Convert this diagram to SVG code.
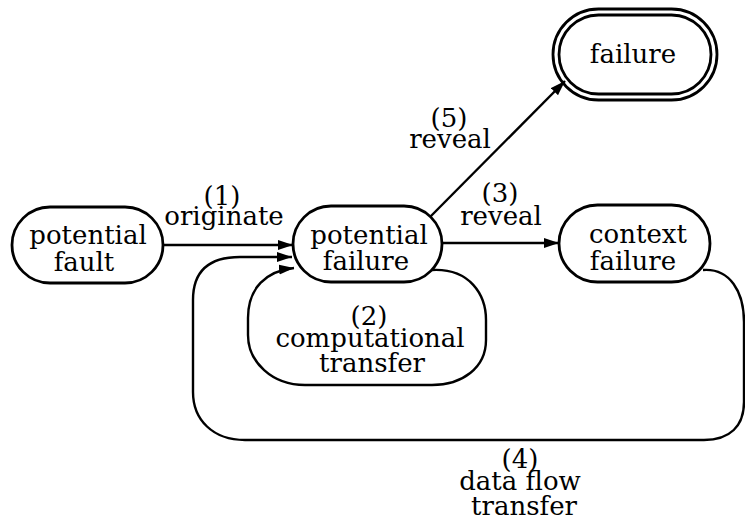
<svg xmlns="http://www.w3.org/2000/svg" width="745" height="521" viewBox="0 0 745 521">
<style>
  .node { fill: none; stroke: #000; stroke-width: 2.8; }
  .edge { fill: none; stroke: #000; stroke-width: 2.4; }
  text { font-family: "DejaVu Serif", "Liberation Serif", serif; font-size: 26px; fill: #000; text-anchor: middle; }
</style>
<defs>
  <marker id="arr" markerUnits="userSpaceOnUse" markerWidth="16" markerHeight="12" refX="15" refY="5.5" orient="auto">
    <path d="M0,0.5 L15,5.5 L0,10.5 Z" fill="#000"/>
  </marker>
</defs>
<rect width="745" height="521" fill="#fff"/>
<g id="connectors">
  <path id="e1" class="edge" d="M163,245 L293,245" marker-end="url(#arr)"/>
  <path id="e2" class="edge" d="M432,270 C470,268 486,295 486,320 L486,340 C486,368 462,385 432,385 L305,385 C272,385 248,362 248,335 L248,318 C248,288 266,271 294,268" marker-end="url(#arr)"/>
  <path id="e3" class="edge" d="M442,243 L559,243" marker-end="url(#arr)"/>
  <path id="e4" class="edge" d="M703,270 C730,268 744,292 744,322 L744,402 C744,426 730,440 704,440 L245,440 C213,440 193,420 193,392 L193,300 C193,270 210,257 240,257 L292,257" marker-end="url(#arr)"/>
  <path id="e5" class="edge" d="M430,217 L565,81" marker-end="url(#arr)"/>
  <text x="222" y="205">(1)</text>
  <text x="224" y="225">originate</text>
  <text x="369" y="325">(2)</text>
  <text x="370" y="347">computational</text>
  <text x="372" y="372">transfer</text>
  <text x="500" y="202">(3)</text>
  <text x="501" y="225">reveal</text>
  <text x="520" y="468">(4)</text>
  <text x="520" y="490">data flow</text>
  <text x="524" y="515">transfer</text>
  <text x="449" y="127">(5)</text>
  <text x="450" y="148">reveal</text>
</g>
<g id="potential-fault">
  <rect class="node" x="12" y="207" width="151" height="76" rx="38"/>
  <text x="88" y="244">potential</text>
  <text x="84" y="271">fault</text>
</g>
<g id="potential-failure">
  <rect class="node" x="293" y="206" width="149" height="76" rx="38"/>
  <text x="369" y="244">potential</text>
  <text x="366" y="270">failure</text>
</g>
<g id="context-failure">
  <rect class="node" x="559" y="205" width="151" height="77" rx="38.5"/>
  <text x="638" y="243">context</text>
  <text x="633" y="270">failure</text>
</g>
<g id="failure">
  <rect class="node" x="553" y="9" width="164" height="91" rx="45.5"/>
  <rect class="node" x="559" y="15" width="152" height="79" rx="39.5"/>
  <text x="633" y="63">failure</text>
</g>
</svg>
